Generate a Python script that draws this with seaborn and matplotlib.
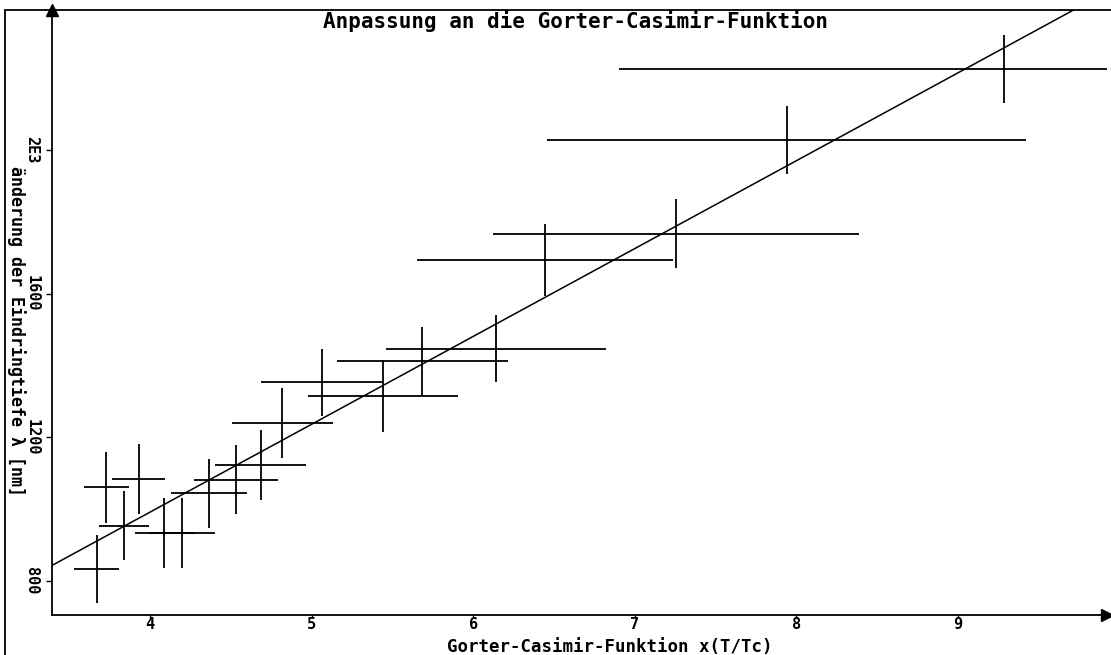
import matplotlib
matplotlib.use("Agg")
import matplotlib.pyplot as plt
from matplotlib.lines import Line2D
import seaborn as sns
import pandas as pd

# Messpunkte
gc_x = [3.67, 3.73, 3.84, 3.93, 4.09, 4.20, 4.365, 4.53, 4.685, 4.82,
        5.065, 5.44, 5.685, 6.14, 6.445, 7.255, 7.94, 9.285]
lam = [833, 1061, 953, 1083, 933, 933, 1044, 1082, 1122, 1240,
       1353, 1314, 1411, 1447, 1694, 1767, 2028, 2225]
gc_xerr = [0.14, 0.14, 0.155, 0.165, 0.185, 0.20, 0.235, 0.26, 0.28, 0.315,
           0.375, 0.465, 0.53, 0.68, 0.79, 1.13, 1.48, 2.38]
lam_err = [94, 99, 96, 97, 97, 97, 96, 96, 97, 97,
           94, 100, 97, 94, 100, 96, 94, 94]

# Anpassungsgerade (Endpunkte)
fit_x = [3.394, 9.92]
fit_y = [843, 2440]

xticks = [4, 5, 6, 7, 8, 9]
yticks = [800, 1200, 1600, 2000]
ytick_labels = ["800", "1200", "1600", "2E3"]

sns.set_style("ticks")
plt.rcParams['font.family'] = ['DejaVu Sans Mono']
plt.rcParams['font.weight'] = 'bold'
plt.rcParams['text.color'] = 'black'
plt.rcParams['axes.labelcolor'] = 'black'

fig = plt.figure(figsize=(11.11, 6.55), dpi=100)
ax = fig.add_axes([0.0468, 0.0611, 0.9496, 0.9237])

df = pd.DataFrame({"x": gc_x, "y": lam, "xerr": gc_xerr, "yerr": lam_err})
ax.errorbar(df["x"], df["y"], xerr=df["xerr"], yerr=df["yerr"], fmt="none",
            ecolor="black", elinewidth=1.3, capsize=0)

fit = pd.DataFrame({"x": fit_x, "y": fit_y})
sns.lineplot(x="x", y="y", data=fit, color="black", linewidth=1.1, ax=ax)

ax.set_xlim(3.394, 9.922)
ax.set_ylim(705, 2390)
sns.despine(ax=ax)
for s in ["left", "bottom"]:
    ax.spines[s].set_linewidth(1.3)
    ax.spines[s].set_color("black")

ax.set_xticks(xticks)
ax.set_xticklabels([str(t) for t in xticks], fontsize=11, fontweight="bold")
ax.set_yticks(yticks)
ax.set_yticklabels(ytick_labels, fontsize=11, fontweight="bold",
                   rotation=-90, va="center")
ax.tick_params(axis="x", direction="out", length=2.5, width=1, pad=-1,
               colors="black")
ax.tick_params(axis="y", direction="out", length=4, width=1, pad=5,
               colors="black")

ax.set_xlabel("Gorter-Casimir-Funktion x(T/Tc)", fontsize=12.5, fontweight="bold")
ax.xaxis.set_label_coords(0.529, -0.0525)
ax.xaxis.label.set_va("center")
ax.set_ylabel("änderung der Eindringtiefe λ [nm]", fontsize=12,
              fontweight="bold", rotation=-90, va="center", ha="center")
ax.yaxis.set_label_coords(-0.034, 0.47)

ax.text(0.496, 0.982, "Anpassung an die Gorter-Casimir-Funktion",
        transform=ax.transAxes, ha="center", va="center",
        fontsize=15, fontweight="bold")

# Pfeile an den Achsenenden
ax.plot(0, 1, marker="^", color="black", markersize=8,
        transform=ax.transAxes, clip_on=False)
ax.plot(1, 0, marker=">", color="black", markersize=8,
        transform=ax.transAxes, clip_on=False)

# Rahmen
fig.add_artist(Line2D([0.0045, 1.0], [0.9847, 0.9847], color="black", linewidth=1.3))
fig.add_artist(Line2D([0.0045, 0.0045], [0.0, 0.9847], color="black", linewidth=1.3))

fig.savefig("out.png", dpi=100)
